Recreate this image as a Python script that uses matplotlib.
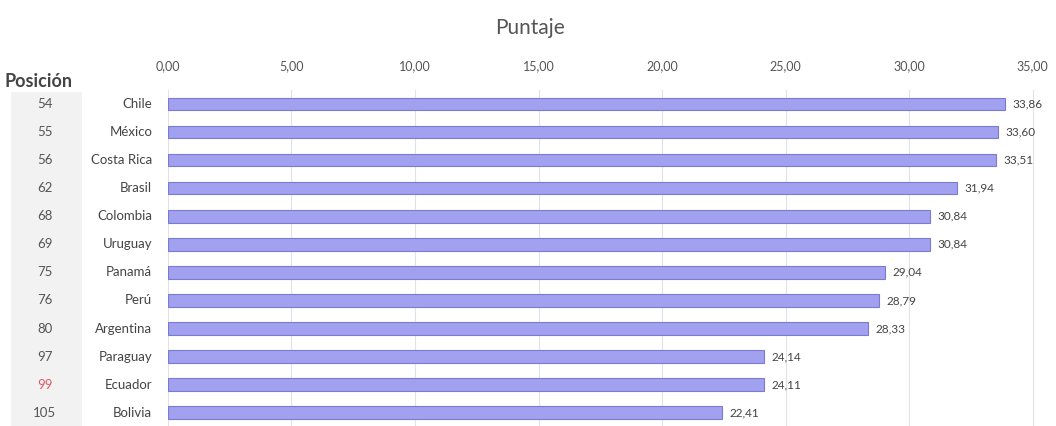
import matplotlib.pyplot as plt
from matplotlib.patches import Rectangle

plt.rcParams['font.family'] = ['Lato', 'DejaVu Sans']

# Datos
paises = ['Chile', 'México', 'Costa Rica', 'Brasil', 'Colombia', 'Uruguay',
          'Panamá', 'Perú', 'Argentina', 'Paraguay', 'Ecuador', 'Bolivia']
posiciones = ['54', '55', '56', '62', '68', '69', '75', '76', '80', '97', '99', '105']
puntajes = [33.86, 33.60, 33.51, 31.94, 30.84, 30.84, 29.04, 28.79, 28.33, 24.14, 24.11, 22.41]
ticks = [0, 5, 10, 15, 20, 25, 30, 35]

fig = plt.figure(figsize=(10.56, 4.26), dpi=100)
ax = fig.add_axes([0.159, -0.002, 0.826, 0.791])

# franja gris de la columna de posición
fig.add_artist(Rectangle((0.010, 0.0), 0.068, 0.785, transform=fig.transFigure,
                         facecolor='#f2f2f2', edgecolor='none', zorder=-1))

y = list(range(len(paises)))
ax.barh(y, puntajes, height=0.45, color='#a1a1f0', edgecolor='#7b7bd4', linewidth=0.8, zorder=3)

for i, v in enumerate(puntajes):
    ax.text(v + 0.3, i, f'{v:.2f}'.replace('.', ','), va='center', ha='left',
            fontsize=8.5, color='#444444')

ax.set_ylim(len(paises) - 0.5, -0.5)
ax.set_xlim(0, 35.3)
ax.set_yticks([])
ax.xaxis.tick_top()
ax.set_xticks(ticks)
ax.set_xticklabels([f'{t:.2f}'.replace('.', ',') for t in ticks], fontsize=9, color='#555555')
ax.tick_params(axis='x', length=0, pad=13)
ax.grid(axis='x', color='#e2e2e2', linewidth=0.8, zorder=0)
for s in ax.spines.values():
    s.set_visible(False)

# etiquetas de países y posiciones
tr = ax.get_yaxis_transform()
for i, (p, pos) in enumerate(zip(paises, posiciones)):
    ax.text(-0.018, i, p, transform=tr, ha='right', va='center',
            fontsize=9.5, color='#444444', clip_on=False)
    col = '#e05a6a' if p == 'Ecuador' else '#555555'
    ax.text(-0.141, i, pos, transform=tr, ha='center', va='center',
            fontsize=9.5, color=col, clip_on=False, zorder=5)

fig.text(0.004, 0.808, 'Posición', fontsize=13, fontweight='bold', color='#444444',
         ha='left', va='center')
fig.text(0.502, 0.935, 'Puntaje', fontsize=15, color='#555555', ha='center', va='center')

plt.savefig('out.png', dpi=100)
